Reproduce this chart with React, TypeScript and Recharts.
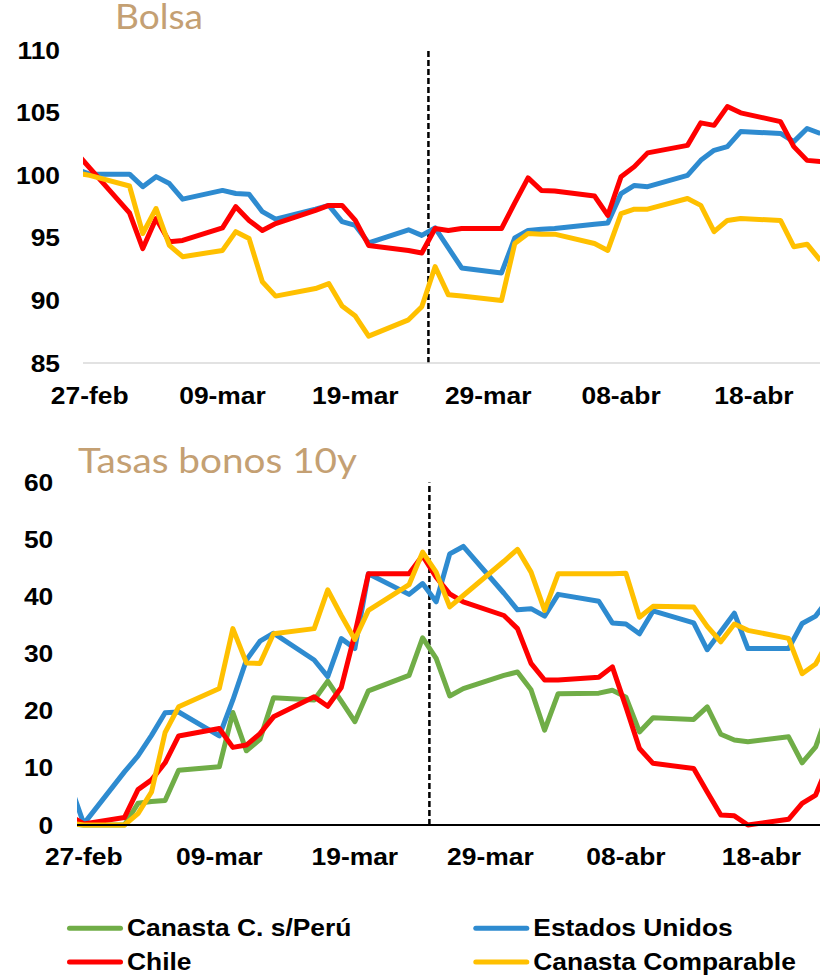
import React from 'react';
import { LineChart, Line, XAxis, YAxis, ReferenceLine } from 'recharts';

// Days counted from 27-feb (trading days only)
const dayIndex = [
  -1, 0, 3, 4, 5, 6, 7, 10, 11, 12, 13, 14, 17, 18, 19, 20, 21, 24, 25, 26, 27, 28,
  31, 32, 33, 34, 35, 38, 39, 40, 41, 42, 45, 46, 47, 48, 49, 52, 53, 54, 55,
];

const xTickDays = [0, 10, 20, 30, 40, 50];
const xTickLabels = ['27-feb', '09-mar', '19-mar', '29-mar', '08-abr', '18-abr'];
const eventDay = 25.5;

const bolsaTicks = [85, 90, 95, 100, 105, 110];
const tasasTicks = [0, 10, 20, 30, 40, 50, 60];

// Bolsa (index)
const bolsaEstadosUnidos = [
  100.5, 100.1, 100.1, 99.1, 99.9, 99.35, 98.1, 98.8, 98.55, 98.5, 97.1, 96.5, 97.3, 97.6, 96.3, 96.0, 94.6,
  95.65, 95.2, 95.8, 94.2, 92.6, 92.2, 95.0, 95.6, 95.7, 95.75, 96.1, 96.2, 98.55, 99.2, 99.1,
  100.0, 101.2, 102.0, 102.3, 103.5, 103.35, 102.7, 103.75, 103.35,
];
const bolsaChile = [
  101.8, 100.6, 97.0, 94.15, 96.55, 94.7, 94.8, 95.8, 97.5, 96.4, 95.6, 96.15, 97.2, 97.6, 97.6, 96.4, 94.4,
  94.0, 93.8, 95.75, 95.6, 95.75, 95.75, 97.8, 99.8, 98.8, 98.75, 98.35, 96.8, 99.9, 100.7, 101.8,
  102.4, 104.2, 104.0, 105.5, 105.0, 104.3, 102.3, 101.2, 101.1,
];
const bolsaCanastaComparable = [
  100.2, 100.0, 99.15, 95.35, 97.35, 94.4, 93.5, 94.0, 95.5, 94.95, 91.5, 90.35, 90.95, 91.35, 89.55, 88.75, 87.15,
  88.45, 89.5, 92.7, 90.45, 90.35, 90.0, 94.55, 95.35, 95.3, 95.3, 94.55, 94.0, 96.95, 97.3, 97.3,
  98.15, 97.6, 95.5, 96.4, 96.55, 96.4, 94.3, 94.5, 93.2,
];

// Tasas bonos 10y (bp change)
const tasasCanastaSinPeru = [
  0.2, 0, 0, 3.8, 4.1, 4.3, 9.6, 10.2, 19.7, 13.0, 15.0, 22.3, 21.9, 25.2, 21.7, 18.1, 23.5,
  26.2, 32.8, 29.2, 22.6, 23.9, 26.2, 26.8, 23.7, 16.6, 23.0, 23.1, 23.6, 22.4, 16.3, 18.8,
  18.5, 20.7, 15.9, 14.9, 14.6, 15.45, 10.9, 13.7, 20.3,
];
const tasasEstadosUnidos = [
  7.0, 0.2, 9.3, 12.1, 15.7, 19.65, 19.8, 15.6, 21.9, 28.9, 32.2, 33.6, 28.9, 26.0, 32.65, 30.9, 44.0,
  40.4, 42.3, 39.1, 47.5, 48.8, 40.6, 37.7, 37.9, 36.6, 40.4, 39.2, 35.4, 35.2, 33.5, 37.5,
  35.4, 30.7, 33.9, 37.1, 30.9, 30.9, 35.3, 36.6, 39.8,
];
const tasasChile = [
  1.6, 0.2, 1.3, 6.2, 7.9, 10.9, 15.6, 16.9, 13.6, 14.0, 16.0, 18.95, 22.45, 20.8, 24.1, 33.5, 44.0,
  44.0, 47.2, 43.4, 40.5, 39.1, 36.7, 34.4, 28.3, 25.4, 25.4, 25.9, 27.7, 20.7, 13.4, 10.8,
  9.9, 5.8, 1.75, 1.6, 0.0, 1.0, 3.8, 5.25, 11.0,
];
const tasasCanastaComparable = [
  0.3, 0, 0, 2.0, 5.8, 16.2, 20.7, 23.9, 34.4, 28.4, 28.3, 33.5, 34.4, 41.2, 36.7, 32.5, 37.6,
  42.1, 47.8, 44.3, 38.2, 40.2, 46.2, 48.3, 44.3, 37.6, 44.0, 44.0, 44.0, 44.1, 36.4, 38.3,
  38.2, 34.8, 32.1, 35.2, 34.1, 32.7, 26.5, 28.2, 32.5,
];

const seriesNames = ['Canasta C. s/Perú', 'Estados Unidos', 'Chile', 'Canasta Comparable'];
const seriesColors = ['#70AD47', '#2E8BD0', '#FF0000', '#FFC000'];
const titleColor = '#C4A073';

const bolsaData = dayIndex.map((d, i) => ({
  day: d,
  eeuu: bolsaEstadosUnidos[i],
  chile: bolsaChile[i],
  comp: bolsaCanastaComparable[i],
}));

const tasasData = dayIndex.map((d, i) => ({
  day: d,
  sinPeru: tasasCanastaSinPeru[i],
  eeuu: tasasEstadosUnidos[i],
  chile: tasasChile[i],
  comp: tasasCanastaComparable[i],
}));

const AXIS_FONT = "'Liberation Sans', Arial, Helvetica, sans-serif";
const TITLE_FONT = "Lato, 'Open Sans', sans-serif";

const XTick = (props: any) => {
  const { x, y, payload } = props;
  const idx = xTickDays.indexOf(payload.value);
  return (
    <g transform={`translate(${x},${y}) scale(1.1,1)`}>
      <text x={0} y={0} dy="0.71em" textAnchor="middle" fontFamily={AXIS_FONT} fontWeight={700} fontSize={24} fill="#000">
        {idx >= 0 ? xTickLabels[idx] : ''}
      </text>
    </g>
  );
};

const YTick = (props: any) => {
  const { x, y, payload } = props;
  return (
    <g transform={`translate(${x},${y}) scale(1.1,1)`}>
      <text x={0} y={0} dy="0.355em" textAnchor="end" fontFamily={AXIS_FONT} fontWeight={700} fontSize={24} fill="#000">
        {payload.value}
      </text>
    </g>
  );
};

const lineProps = {
  type: 'linear' as const,
  strokeWidth: 5,
  dot: false,
  activeDot: false,
  isAnimationActive: false,
  strokeLinejoin: 'round' as const,
};

export default function App() {
  return (
    <div
      style={{
        position: 'absolute',
        left: 0,
        top: 0,
        width: 820,
        height: 975,
        overflow: 'hidden',
        background: '#fff',
      }}
    >
      <div style={{ position: 'absolute', left: 0, top: 0 }}>
        <LineChart width={827} height={408} data={bolsaData} margin={{ top: 50.3, right: 0, bottom: 0, left: 0 }}>
          <XAxis
            dataKey="day"
            type="number"
            domain={[-0.5, 55.5]}
            allowDataOverflow
            ticks={xTickDays}
            interval={0}
            height={45}
            tickSize={0}
            tickMargin={23.7}
            tick={<XTick />}
            axisLine={{ stroke: '#D9D9D9', strokeWidth: 1.5 }}
          />
          <YAxis
            type="number"
            domain={[85, 110]}
            ticks={bolsaTicks}
            interval={0}
            width={83}
            tickSize={0}
            tickMargin={23}
            tick={<YTick />}
            axisLine={false}
          />
          <ReferenceLine x={eventDay} stroke="#000" strokeWidth={2.5} strokeDasharray="6 3" />
          <Line {...lineProps} dataKey="eeuu" name={seriesNames[1]} stroke={seriesColors[1]} />
          <Line {...lineProps} dataKey="chile" name={seriesNames[2]} stroke={seriesColors[2]} />
          <Line {...lineProps} dataKey="comp" name={seriesNames[3]} stroke={seriesColors[3]} />
        </LineChart>
      </div>

      <div style={{ position: 'absolute', left: 0, top: 440 }}>
        <LineChart width={836} height={430} data={tasasData} margin={{ top: 42.5, right: 0, bottom: 0, left: 0 }}>
          <XAxis
            dataKey="day"
            type="number"
            domain={[-0.5, 55.5]}
            allowDataOverflow
            ticks={xTickDays}
            interval={0}
            height={45}
            tickSize={0}
            tickMargin={23}
            tick={<XTick />}
            axisLine={{ stroke: '#000', strokeWidth: 2 }}
          />
          <YAxis
            type="number"
            domain={[0, 60]}
            ticks={tasasTicks}
            interval={0}
            width={77}
            tickSize={0}
            tickMargin={23.7}
            tick={<YTick />}
            axisLine={false}
          />
          <ReferenceLine x={eventDay} stroke="#000" strokeWidth={2.5} strokeDasharray="6 3" />
          <Line {...lineProps} dataKey="sinPeru" name={seriesNames[0]} stroke={seriesColors[0]} />
          <Line {...lineProps} dataKey="eeuu" name={seriesNames[1]} stroke={seriesColors[1]} />
          <Line {...lineProps} dataKey="chile" name={seriesNames[2]} stroke={seriesColors[2]} />
          <Line {...lineProps} dataKey="comp" name={seriesNames[3]} stroke={seriesColors[3]} />
        </LineChart>
      </div>

      <svg
        width={820}
        height={975}
        style={{ position: 'absolute', left: 0, top: 0, pointerEvents: 'none' }}
      >
        <text x={115} y={29.3} fontFamily={TITLE_FONT} fontSize={34.5} fill={titleColor} textLength={88} lengthAdjust="spacingAndGlyphs">
          Bolsa
        </text>
        <text x={78} y={473} fontFamily={TITLE_FONT} fontSize={34.5} fill={titleColor} textLength={279} lengthAdjust="spacingAndGlyphs">
          Tasas bonos 10y
        </text>
        {seriesNames.map((name, i) => {
          const col = i % 2;
          const row = Math.floor(i / 2);
          const lx = 69.5 + col * 406.3;
          const ly = 928.3 + row * 33.6;
          return (
            <g key={name}>
              <line x1={lx} x2={lx + 51} y1={ly} y2={ly} stroke={seriesColors[i]} strokeWidth={5} strokeLinecap="round" />
              <g transform={`translate(${127 + col * 406.3},${ly + 7.9}) scale(1.1,1)`}>
                <text x={0} y={0} fontFamily={AXIS_FONT} fontWeight={700} fontSize={24} fill="#000">
                  {name}
                </text>
              </g>
            </g>
          );
        })}
      </svg>
    </div>
  );
}
